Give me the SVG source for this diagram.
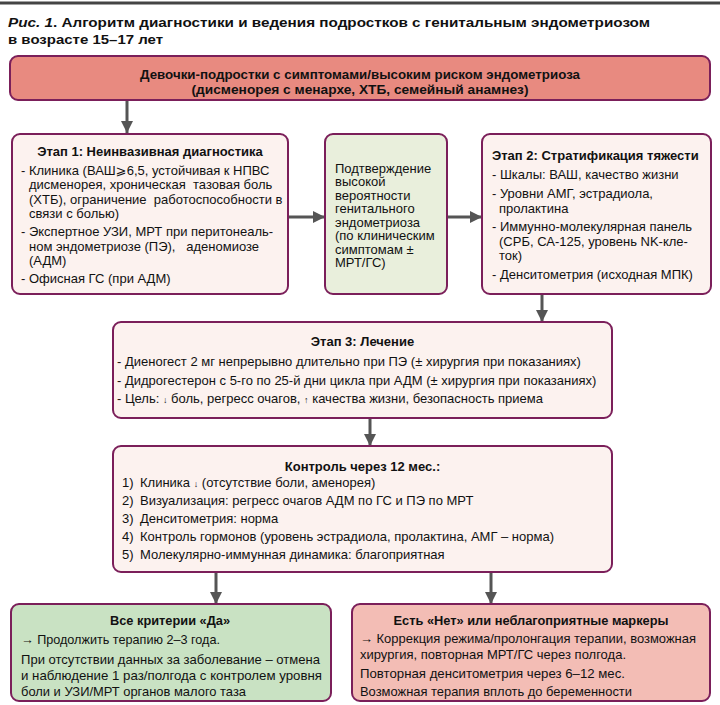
<svg xmlns="http://www.w3.org/2000/svg" width="720" height="705" viewBox="0 0 720 705">
<style>
.box{stroke:#7b1f5a;stroke-width:2}
.pk{fill:#fcf2ef}
.t{font-family:"Liberation Sans",Arial,sans-serif;font-size:13px;fill:#111}
.b{font-weight:bold}
.c{text-anchor:middle}
.n{font-family:"Liberation Sans Narrow","Liberation Sans",Arial,sans-serif;font-size:13.5px;fill:#111}
.con{stroke:#555;stroke-width:3;fill:none}
.sym{font-family:"DejaVu Sans","Liberation Sans",sans-serif}
</style>
<defs>
<marker id="ah" markerUnits="userSpaceOnUse" markerWidth="12" markerHeight="12" refX="12" refY="6" orient="auto">
<path d="M0,0 L12,6 L0,12 z" fill="#555"/>
</marker>
</defs>
<rect width="720" height="705" fill="#fff"/>
<line x1="0" y1="3" x2="720" y2="3" stroke="#444" stroke-width="3"/>
<g id="title">
<text class="n b" x="8" y="27" font-size="18" textLength="642" lengthAdjust="spacingAndGlyphs"><tspan font-style="italic">Рис. 1</tspan>. Алгоритм диагностики и ведения подростков с генитальным эндометриозом</text>
<text class="n b" x="8" y="44" font-size="18" textLength="155" lengthAdjust="spacingAndGlyphs">в возрасте 15–17 лет</text>
</g>
<g id="connectors">
<line class="con" x1="127" y1="100" x2="127" y2="133" marker-end="url(#ah)"/>
<line class="con" x1="288" y1="217" x2="325" y2="217" marker-end="url(#ah)"/>
<line class="con" x1="447" y1="217" x2="482" y2="217" marker-end="url(#ah)"/>
<line class="con" x1="542" y1="294" x2="542" y2="322" marker-end="url(#ah)"/>
<line class="con" x1="370" y1="418" x2="370" y2="446" marker-end="url(#ah)"/>
<line class="con" x1="216" y1="572" x2="216" y2="604" marker-end="url(#ah)"/>
<line class="con" x1="491" y1="572" x2="491" y2="604" marker-end="url(#ah)"/>
</g>
<g id="start">
<rect class="box" x="10" y="56" width="700" height="44" rx="8" fill="#e88a80"/>
<text class="n b c" x="360" y="79" font-size="14" textLength="440" lengthAdjust="spacingAndGlyphs">Девочки-подростки с симптомами/высоким риском эндометриоза</text>
<text class="n b c" x="360" y="94" font-size="14" textLength="337" lengthAdjust="spacingAndGlyphs">(дисменорея с менархе, ХТБ, семейный анамнез)</text>
</g>
<g id="stage1">
<rect class="box pk" x="12" y="134" width="276" height="160" rx="8"/>
<text class="t b c" x="150" y="156">Этап 1: Неинвазивная диагностика</text>
<text class="t" x="21" y="174.5">- Клиника (ВАШ<tspan class="sym">⩾</tspan>6,5, устойчивая к НПВС</text>
<text class="t" x="29" y="189">дисменорея, хроническая&#160; тазовая боль</text>
<text class="t" x="29" y="203.5">(ХТБ), ограничение&#160; работоспособности в</text>
<text class="t" x="29" y="218">связи с болью)</text>
<text class="t" x="21" y="236">- Экспертное УЗИ, МРТ при перитонеаль-</text>
<text class="t" x="29" y="250.5">ном эндометриозе (ПЭ),&#160;&#160; аденомиозе</text>
<text class="t" x="29" y="265">(АДМ)</text>
<text class="t" x="21" y="283">- Офисная ГС (при АДМ)</text>
</g>
<g id="confirm">
<rect class="box" x="325" y="134" width="122" height="160" rx="8" fill="#e9efdc"/>
<text class="t" x="335" y="172.5">Подтверждение</text>
<text class="t" x="335" y="186">высокой</text>
<text class="t" x="335" y="199.5">вероятности</text>
<text class="t" x="335" y="213">генитального</text>
<text class="t" x="335" y="226.5">эндометриоза</text>
<text class="t" x="335" y="240">(по клиническим</text>
<text class="t" x="335" y="253.5">симптомам ±</text>
<text class="t" x="335" y="267">МРТ/ГС)</text>
</g>
<g id="stage2">
<rect class="box pk" x="482" y="134" width="229" height="160" rx="8"/>
<text class="t b" x="492" y="160">Этап 2: Стратификация тяжести</text>
<text class="t" x="492" y="179">- Шкалы: ВАШ, качество жизни</text>
<text class="t" x="492" y="198">- Уровни АМГ, эстрадиола,</text>
<text class="t" x="499" y="212.5">пролактина</text>
<text class="t" x="492" y="231">- Иммунно-молекулярная панель</text>
<text class="t" x="499" y="245.5">(СРБ, СА-125, уровень NK-кле-</text>
<text class="t" x="499" y="260">ток)</text>
<text class="t" x="492" y="279">- Денситометрия (исходная МПК)</text>
</g>
<g id="stage3">
<rect class="box pk" x="113" y="322" width="499" height="96" rx="8"/>
<text class="t b c" x="362.5" y="346">Этап 3: Лечение</text>
<text class="t" x="117" y="366">- Диеногест 2 мг непрерывно длительно при ПЭ (± хирургия при показаниях)</text>
<text class="t" x="117" y="385">- Дидрогестерон с 5-го по 25-й дни цикла при АДМ (± хирургия при показаниях)</text>
<text class="t" x="117" y="403">- Цель: <tspan font-size="9">↓</tspan> боль, регресс очагов, <tspan font-size="9">↑</tspan> качества жизни, безопасность приема</text>
</g>
<g id="control">
<rect class="box pk" x="113" y="446" width="499" height="126" rx="8"/>
<text class="t b c" x="362.5" y="471">Контроль через 12 мес.:</text>
<text class="t" x="122" y="486.5">1)</text>
<text class="t" x="140" y="486.5">Клиника <tspan font-size="9">↓</tspan> (отсутствие боли, аменорея)</text>
<text class="t" x="122" y="504.5">2)</text>
<text class="t" x="140" y="504.5">Визуализация: регресс очагов АДМ по ГС и ПЭ по МРТ</text>
<text class="t" x="122" y="522.5">3)</text>
<text class="t" x="140" y="522.5">Денситометрия: норма</text>
<text class="t" x="122" y="540.5">4)</text>
<text class="t" x="140" y="540.5">Контроль гормонов (уровень эстрадиола, пролактина, АМГ – норма)</text>
<text class="t" x="122" y="558.5">5)</text>
<text class="t" x="140" y="558.5">Молекулярно-иммунная динамика: благоприятная</text>
</g>
<g id="yes">
<rect class="box" x="11" y="604" width="320" height="97" rx="8" fill="#c9e2c3"/>
<text class="n b c" x="170" y="625" textLength="120" lengthAdjust="spacingAndGlyphs">Все критерии «Да»</text>
<text class="n" x="21" y="644" textLength="199" lengthAdjust="spacingAndGlyphs">→ Продолжить терапию 2–3 года.</text>
<text class="n" x="21" y="664" textLength="299" lengthAdjust="spacingAndGlyphs">При отсутствии данных за заболевание – отмена</text>
<text class="n" x="21" y="680" textLength="301" lengthAdjust="spacingAndGlyphs">и наблюдение 1 раз/полгода с контролем уровня</text>
<text class="n" x="21" y="696" textLength="225" lengthAdjust="spacingAndGlyphs">боли и УЗИ/МРТ органов малого таза</text>
</g>
<g id="no">
<rect class="box" x="352" y="604" width="358" height="97" rx="8" fill="#f3bdb5"/>
<text class="n b c" x="531" y="625" textLength="275" lengthAdjust="spacingAndGlyphs">Есть «Нет» или неблагоприятные маркеры</text>
<text class="n" x="360" y="643" textLength="336" lengthAdjust="spacingAndGlyphs">→ Коррекция режима/пролонгация терапии, возможная</text>
<text class="n" x="360" y="659" textLength="266" lengthAdjust="spacingAndGlyphs">хирургия, повторная МРТ/ГС через полгода.</text>
<text class="n" x="360" y="678" textLength="265" lengthAdjust="spacingAndGlyphs">Повторная денситометрия через 6–12 мес.</text>
<text class="n" x="360" y="696" textLength="272" lengthAdjust="spacingAndGlyphs">Возможная терапия вплоть до беременности</text>
</g>
</svg>
